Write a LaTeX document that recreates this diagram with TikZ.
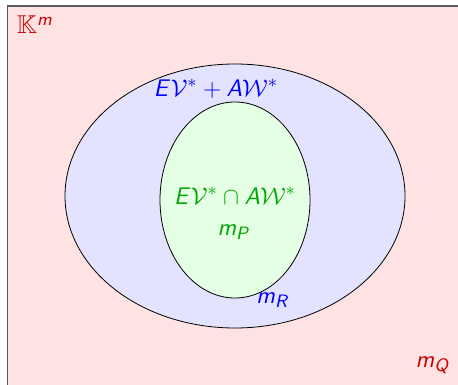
\documentclass[tikz,border=0pt]{standalone}
\usepackage{amsmath}
\usepackage{amssymb}
\usepackage{tikz}
% sans slanted letters, as on a slide
\DeclareSymbolFont{sfletters}{OT1}{cmss}{m}{sl}
\DeclareSymbolFont{sfupright}{OT1}{cmss}{m}{n}
\DeclareMathSymbol{E}{\mathalpha}{sfletters}{`E}
\DeclareMathSymbol{A}{\mathalpha}{sfletters}{`A}
\DeclareMathSymbol{m}{\mathalpha}{sfletters}{`m}
\DeclareMathSymbol{P}{\mathalpha}{sfletters}{`P}
\DeclareMathSymbol{Q}{\mathalpha}{sfletters}{`Q}
\DeclareMathSymbol{R}{\mathalpha}{sfletters}{`R}
\DeclareMathSymbol{+}{\mathbin}{sfupright}{`+}

\begin{document}
\begin{tikzpicture}[x=0.5pt,y=-0.5pt]
			\tikzstyle{every node}+=[inner sep=0pt, font=\fontsize{12.9}{15}\selectfont]
			\clip (0,0) rectangle (458,384);
			\draw [black!65, line width=0.7pt, fill=red!11] (7.5,6) rectangle (480,400);
			\draw [black, fill=blue!11] (235,196) ellipse (170 and 132);
			\draw [black, fill=green!10] (235,200) ellipse (75 and 98);
			\node [text=red!80!black] (kset) at (35,25) {$\mathbb{K}^m$};
			\node [text=blue] (sumset) at (216,89) {$E\mathcal{V}^* + A\mathcal{W}^*$};
			\node [text=green!65!black] (capset) at (235,196) {$E\mathcal{V}^* \cap A\mathcal{W}^*$};
			\node [text=green!65!black] (mp) at (234,232) {$m_P$};
			\node [text=blue] (mr) at (273,300) {$m_R$};
			\node [text=red!80!black] (mq) at (433,365) {$m_Q$};
		\end{tikzpicture}
\end{document}
